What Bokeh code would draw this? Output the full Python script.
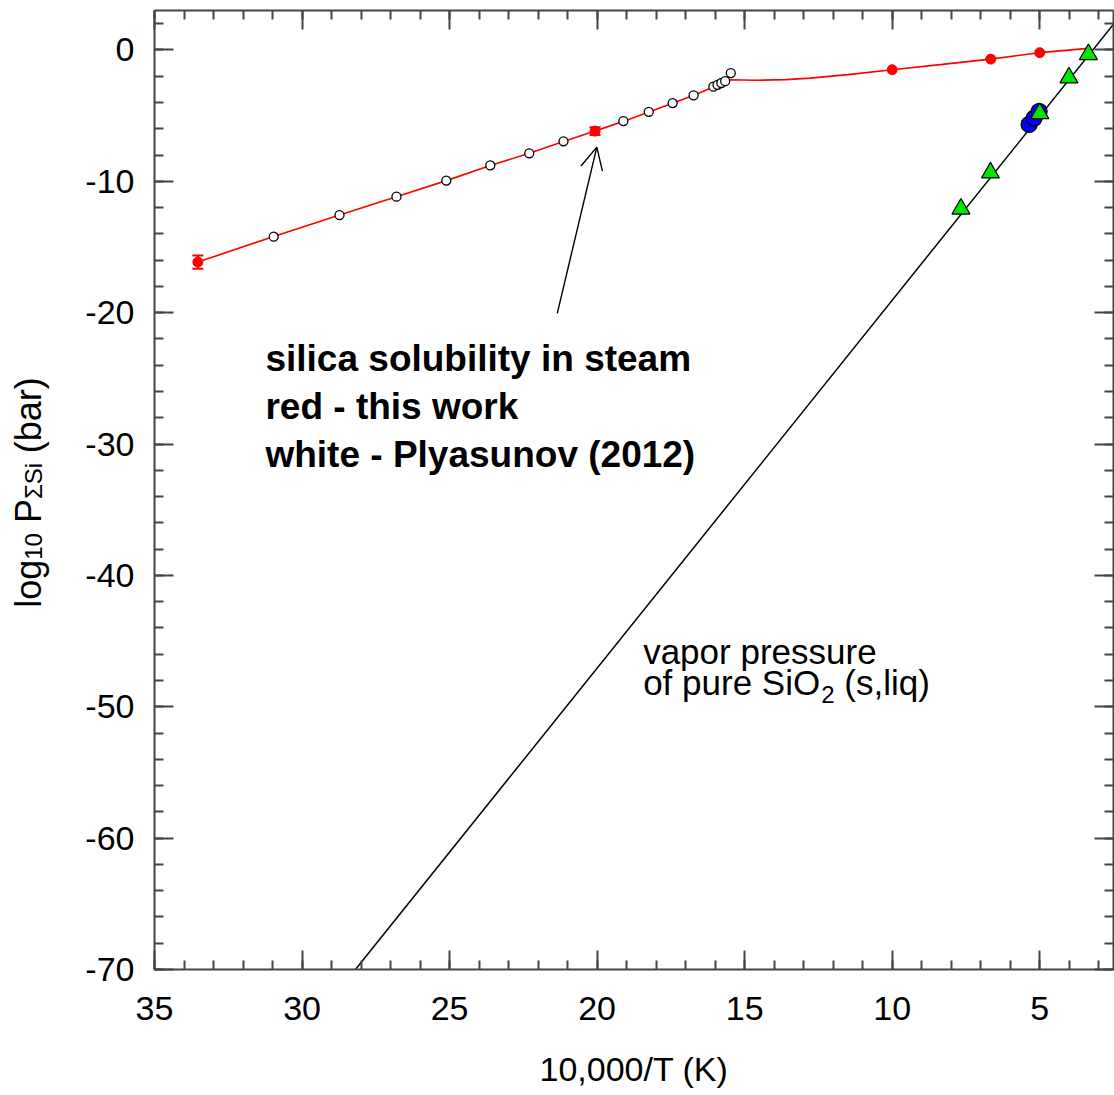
import math
from bokeh.plotting import figure
from bokeh.layouts import row
from bokeh.models import (Range1d, LinearAxis, SingleIntervalTicker, Label, Arrow,
                          OpenHead, Whisker, TeeHead, ColumnDataSource, PrintfTickFormatter)
from bokeh.embed import file_html
from bokeh.resources import INLINE

# ---------------- data ----------------
# this work (red, filled) : x = 10,000/T (K), y = log10 P_SumSi (bar)
red_x = [33.53, 20.07, 10.0, 6.66, 5.0]
red_y = [-16.15, -6.18, -1.51, -0.70, -0.21]
red_err_x = [33.53, 20.07]
red_err_lo = [-16.65, -6.48]
red_err_hi = [-15.65, -5.88]

# red model curve
curve_x = [33.53, 30.96, 28.73, 26.80, 25.11, 23.62, 22.30, 21.14, 20.07, 19.11,
           18.25, 17.44, 16.74, 16.06, 15.49, 14.6, 13.6, 12.78, 11.5, 10.0,
           8.3, 6.66, 5.0, 3.36]
curve_y = [-16.15, -14.20, -12.57, -11.17, -9.95, -8.80, -7.87, -6.98, -6.18, -5.44,
           -4.73, -4.06, -3.47, -2.82, -2.27, -2.31, -2.26, -2.15, -1.88, -1.51,
           -1.10, -0.70, -0.21, 0.12]

# Plyasunov (2012) (white, open)
ply_x = [30.96, 28.73, 26.80, 25.11, 23.62, 22.30, 21.14, 19.11, 18.25, 17.44,
         16.73, 16.06, 15.92, 15.79, 15.66, 15.47]
ply_y = [-14.22, -12.57, -11.17, -9.95, -8.79, -7.87, -6.96, -5.42, -4.71, -4.05,
         -3.46, -2.80, -2.66, -2.52, -2.38, -1.76]

# vapor pressure of pure SiO2 (s,liq)
vp_x = [28.19, 2.5]
vp_y = [-70.0, 1.95]

# green triangles and blue circles on the vapor-pressure line
tri_x = [7.67, 6.67, 5.0, 4.01, 3.35]
tri_y = [-12.10, -9.35, -4.83, -2.11, -0.34]
blue_x = [5.36, 5.19, 5.02]
blue_y = [-5.67, -5.19, -4.68]

# arrow (tail -> tip)
arrow_tail = (21.35, -20.05)
arrow_tip = (20.01, -7.40)

# tick settings
x_major, x_minor_n = 5, 5
y_major, y_minor_n = 10, 5

FONT = "Liberation Sans"
AX = "#444444"
LEFT_W = 60

p = figure(width=1114 - LEFT_W, height=1095, output_backend="svg", toolbar_location=None,
           x_range=Range1d(35, 2.5), y_range=Range1d(-70, 3),
           min_border_left=154 - LEFT_W, min_border_right=1, min_border_top=10,
           min_border_bottom=126, outline_line_color=None)
p.xgrid.visible = False
p.ygrid.visible = False
p.background_fill_color = "white"
p.border_fill_color = "white"


def style_axis(ax, show_labels):
    ax.axis_line_color = AX
    ax.axis_line_width = 2
    ax.major_tick_line_color = AX
    ax.minor_tick_line_color = AX
    ax.major_tick_line_width = 2
    ax.minor_tick_line_width = 2
    ax.major_tick_in = 19
    ax.major_tick_out = 0
    ax.minor_tick_in = 9
    ax.minor_tick_out = 0
    ax.major_label_text_font = FONT
    if show_labels:
        ax.major_label_text_font_size = "34px"
        ax.major_label_text_color = "black"
    else:
        ax.major_label_text_font_size = "0px"
        ax.major_label_text_color = None
        ax.major_label_text_alpha = 0
        ax.major_label_standoff = 0


p.xaxis.ticker = SingleIntervalTicker(interval=x_major, num_minor_ticks=x_minor_n)
p.yaxis.ticker = SingleIntervalTicker(interval=y_major, num_minor_ticks=y_minor_n)
p.xaxis.formatter = PrintfTickFormatter(format="%d")
p.yaxis.formatter = PrintfTickFormatter(format="%d")
style_axis(p.xaxis[0], True)
style_axis(p.yaxis[0], True)
p.xaxis.major_label_standoff = 27
p.yaxis.major_label_standoff = 20
p.xaxis.axis_label = "10,000/T (K)"
p.xaxis.axis_label_text_font = FONT
p.xaxis.axis_label_text_font_size = "34px"
p.xaxis.axis_label_text_font_style = "normal"
p.xaxis.axis_label_text_color = "black"
p.xaxis.axis_label_standoff = 27

top = LinearAxis(ticker=SingleIntervalTicker(interval=x_major, num_minor_ticks=x_minor_n))
right = LinearAxis(ticker=SingleIntervalTicker(interval=y_major, num_minor_ticks=y_minor_n))
style_axis(top, False)
style_axis(right, False)
p.add_layout(top, "above")
p.add_layout(right, "right")

# ---------------- glyphs ----------------
p.line(vp_x, vp_y, line_color="black", line_width=1.5)
p.line(curve_x, curve_y, line_color="#ff0000", line_width=1.6)

err_src = ColumnDataSource(dict(x=red_err_x, lo=red_err_lo, hi=red_err_hi))
p.add_layout(Whisker(source=err_src, base="x", lower="lo", upper="hi",
                     dimension="height", line_color="#ff0000", line_width=2,
                     upper_head=TeeHead(size=11, line_color="#ff0000", line_width=2),
                     lower_head=TeeHead(size=11, line_color="#ff0000", line_width=2)))

p.scatter(red_x, red_y, marker="circle", size=10, fill_color="#ff0000",
          line_color="#ff0000")
p.scatter(ply_x, ply_y, marker="circle", size=9, fill_color="white",
          line_color="black", line_width=1.3)
p.scatter(blue_x, blue_y, marker="circle", size=16, fill_color="#0000ff",
          line_color="black", line_width=1.2)
p.scatter(tri_x, tri_y, marker="triangle", size=18, fill_color="#00e600",
          line_color="black", line_width=1.2)

p.add_layout(Arrow(end=OpenHead(size=22, line_width=1.4, line_color="black"),
                   x_start=arrow_tail[0], y_start=arrow_tail[1],
                   x_end=arrow_tip[0], y_end=arrow_tip[1],
                   line_width=1.4, line_color="black"))

# ---------------- annotations ----------------
bold_lines = ["silica solubility in steam", "red - this work", "white - Plyasunov (2012)"]
bold_y = [-23.48, -27.13, -30.78]
for t, yy in zip(bold_lines, bold_y):
    p.add_layout(Label(x=31.24, y=yy, text=t, text_font=FONT, text_font_size="37px",
                       text_font_style="bold", text_color="black",
                       text_baseline="alphabetic", text_align="left"))

fs = 35
vx, vy1, vy2 = 18.44, -45.78, -48.19
p.add_layout(Label(x=vx, y=vy1, text="vapor pressure", text_font=FONT,
                   text_font_size=f"{fs}px", text_color="black",
                   text_baseline="alphabetic"))
w1 = 5.058 * fs  # width of "of pure SiO"
p.add_layout(Label(x=vx, y=vy2, text="of pure SiO", text_font=FONT,
                   text_font_size=f"{fs}px", text_color="black",
                   text_baseline="alphabetic"))
p.add_layout(Label(x=vx, y=vy2, x_offset=w1 + 1, y_offset=-12, text="2",
                   text_font=FONT, text_font_size="24px", text_color="black",
                   text_baseline="alphabetic"))
p.add_layout(Label(x=vx, y=vy2, x_offset=w1 + 1 + 0.556 * 24 + 0.278 * fs,
                   text="(s,liq)", text_font=FONT, text_font_size=f"{fs}px",
                   text_color="black", text_baseline="alphabetic"))

# ---------------- y-axis title (separate narrow panel) ----------------
yl = figure(width=LEFT_W, height=1095, output_backend="svg", toolbar_location=None,
            x_range=Range1d(0, LEFT_W), y_range=Range1d(0, 1095),
            x_axis_type=None, y_axis_type=None, min_border=0,
            outline_line_color=None)
yl.xgrid.visible = False
yl.ygrid.visible = False
yl.border_fill_color = "white"

F, S = 36, 24
base_x, base_y = 28, 413
pieces = [("log", F, 0, 0.0), ("10", S, 5, 1.334 * F),
          ("P", F, 0, 1.334 * F + 1.112 * S + 0.278 * F),
          ("\u03a3Si", S, 5, 1.334 * F + 1.112 * S + 0.945 * F),
          ("(bar)", F, 0, 1.334 * F + 1.112 * S + 0.945 * F + 1.489 * S + 0.278 * F)]
for t, size, shift, off in pieces:
    yl.add_layout(Label(x=base_x, y=base_y, x_offset=shift, y_offset=off, text=t,
                        angle=math.pi / 2, text_font=FONT, text_font_size=f"{size}px",
                        text_color="black", text_baseline="alphabetic",
                        text_align="left"))

layout = row(yl, p, spacing=0)
open("out.html", "w").write(file_html(layout, INLINE))
